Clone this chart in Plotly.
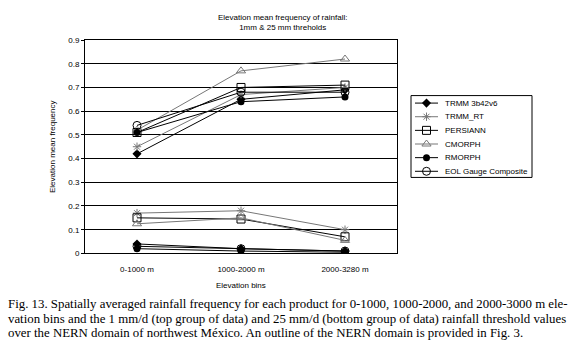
import plotly.graph_objects as go

categories = ["0-1000 m", "1000-2000 m", "2000-3280 m"]
products = ["TRMM 3b42v6", "TRMM_RT", "PERSIANN", "CMORPH", "RMORPH", "EOL Gauge Composite"]

# 1 mm/d threshold (top group)
trmm_1mm = [0.42, 0.65, 0.69]
trmmrt_1mm = [0.45, 0.67, 0.70]
persiann_1mm = [0.51, 0.70, 0.71]
cmorph_1mm = [0.52, 0.77, 0.82]
rmorph_1mm = [0.51, 0.64, 0.66]
eol_1mm = [0.54, 0.68, 0.68]

# 25 mm/d threshold (bottom group)
trmm_25mm = [0.04, 0.02, 0.01]
trmmrt_25mm = [0.17, 0.18, 0.10]
persiann_25mm = [0.15, 0.145, 0.07]
cmorph_25mm = [0.125, 0.15, 0.055]
rmorph_25mm = [0.02, 0.01, 0.005]
eol_25mm = [0.03, 0.02, 0.01]

y_ticks = [0, 0.1, 0.2, 0.3, 0.4, 0.5, 0.6, 0.7, 0.8, 0.9]

caption_lines = [
    "Fig. 13. Spatially averaged rainfall frequency for each product for 0-1000, 1000-2000, and 2000-3000 m ele-",
    "vation bins and the 1 mm/d (top group of data) and 25 mm/d (bottom group of data) rainfall threshold values",
    "over the NERN domain of northwest México. An outline of the NERN domain is provided in Fig. 3.",
]

styles = {
    "TRMM 3b42v6": dict(symbol="diamond", size=7, color="black", filled=True),
    "TRMM_RT": dict(symbol="asterisk-open", size=7, color="#777777", filled=False),
    "PERSIANN": dict(symbol="square-open", size=8, color="black", filled=False),
    "CMORPH": dict(symbol="triangle-up-open", size=8, color="#777777", filled=False),
    "RMORPH": dict(symbol="circle", size=7, color="black", filled=True),
    "EOL Gauge Composite": dict(symbol="circle-open", size=8, color="black", filled=False),
}

series_1mm = [trmm_1mm, trmmrt_1mm, persiann_1mm, cmorph_1mm, rmorph_1mm, eol_1mm]
series_25mm = [trmm_25mm, trmmrt_25mm, persiann_25mm, cmorph_25mm, rmorph_25mm, eol_25mm]

W, H = 578, 350
# plot area in pixels
PL, PR, PT, PB = 85, 397, 37, 256
# legend box in pixels
LL, LR, LT, LB = 411, 532, 94, 178


def fx(x):
    return x / W


def fy(y):
    return 1 - y / H


def make_marker(st):
    if st["filled"]:
        return dict(symbol=st["symbol"], size=st["size"], color=st["color"], line=dict(width=0))
    return dict(symbol=st["symbol"], size=st["size"], color=st["color"],
                line=dict(color=st["color"], width=1))


fig = go.Figure()
for name, vals1, vals25 in zip(products, series_1mm, series_25mm):
    st = styles[name]
    for vals in (vals25, vals1):
        fig.add_trace(go.Scatter(
            x=categories, y=vals, mode="lines+markers", name=name,
            showlegend=False, xaxis="x", yaxis="y",
            line=dict(color=st["color"], width=1),
            marker=make_marker(st),
        ))

# custom compact legend (samples drawn on a helper axis in pixel units)
annotations = []
for i, name in enumerate(products):
    st = styles[name]
    row = 101.7 + 14 * i
    fig.add_trace(go.Scatter(
        x=[415, 438], y=[row, row], mode="lines", xaxis="x2", yaxis="y2",
        line=dict(color=st["color"], width=1), showlegend=False, hoverinfo="skip"))
    fig.add_trace(go.Scatter(
        x=[426.5], y=[row], mode="markers", xaxis="x2", yaxis="y2",
        marker=make_marker(st), showlegend=False, hoverinfo="skip"))
    annotations.append(dict(text=name, x=443, y=row, xref="x2", yref="y2",
                            showarrow=False, xanchor="left", yanchor="middle",
                            font=dict(family="Liberation Sans, Arial", size=8, color="black")))

annotations.append(dict(text="Elevation mean frequency of rainfall:<br>1mm & 25 mm threholds",
                        x=fx(282), y=fy(19), xref="paper", yref="paper", showarrow=False,
                        xanchor="center", yanchor="middle",
                        font=dict(family="Liberation Sans, Arial", size=8, color="black")))
annotations.append(dict(text="Elevation bins", x=fx(241), y=fy(289), xref="paper", yref="paper",
                        showarrow=False, xanchor="center", yanchor="middle",
                        font=dict(family="Liberation Sans, Arial", size=8, color="black")))
for i, line in enumerate(caption_lines):
    annotations.append(dict(text=line, x=fx(6), y=fy(308 + 15 * i), xref="paper", yref="paper",
                            showarrow=False, xanchor="left", yanchor="middle",
                            font=dict(family="Liberation Serif, Times New Roman", size=12.85, color="black")))

shapes = [dict(type="rect", xref="paper", yref="paper",
               x0=fx(LL), x1=fx(LR), y0=fy(LB), y1=fy(LT),
               line=dict(color="black", width=1), fillcolor="rgba(0,0,0,0)")]

fig.update_layout(
    width=W, height=H,
    margin=dict(l=0, r=0, t=0, b=0, pad=0),
    paper_bgcolor="white", plot_bgcolor="white",
    showlegend=False,
    annotations=annotations,
    shapes=shapes,
    font=dict(family="Liberation Sans, Arial", size=8, color="black"),
    xaxis=dict(domain=[fx(PL), fx(PR)], type="category", range=[-0.5, 2.5], showgrid=False,
               showline=True, linecolor="black", linewidth=1, mirror=True, ticks="",
               tickfont=dict(size=8), ticklabelstandoff=8, anchor="y"),
    yaxis=dict(domain=[fy(PB), fy(PT)], range=[0, 0.9], tickvals=y_ticks,
               ticktext=[f"{v:g}" for v in y_ticks],
               showgrid=True, gridcolor="black", gridwidth=1, showline=True,
               linecolor="black", linewidth=1, mirror=True, ticks="outside", ticklen=3,
               tickcolor="black", zeroline=False, tickfont=dict(size=8), anchor="x",
               title=dict(text="Elevation mean frequency", font=dict(size=8), standoff=11)),
    xaxis2=dict(domain=[fx(LL), fx(LR)], range=[LL, LR], visible=False, anchor="y2",
                fixedrange=True),
    yaxis2=dict(domain=[fy(LB), fy(LT)], range=[LB, LT], visible=False, anchor="x2",
                fixedrange=True),
)

fig.write_html("out.html", config={"displayModeBar": False},
               post_script="document.body.style.margin='0px';")
